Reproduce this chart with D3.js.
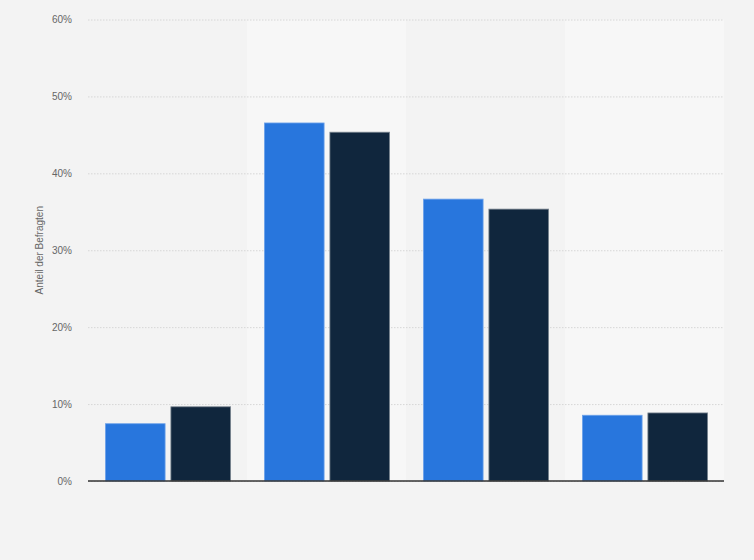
<!DOCTYPE html>
<html>

<head>
    <script src="https://d3js.org/d3.v7.min.js"></script>
    <meta charset="utf-8">
    <style>
        body { margin: 0; background: #f3f3f3; }
        svg { display: block; font-family: "Liberation Sans", Arial, sans-serif; }
    </style>
</head>

<body>
    <div id="my_dataviz"></div>
    <script>
        // data (x labels are not shown in the original)
        var categories = ["A", "B", "C", "D"];
        var series = ["Reihe 1", "Reihe 2"];
        var values1 = [7.5, 46.6, 36.7, 8.6];
        var values2 = [9.7, 45.4, 35.4, 8.9];
        var yTicks = [0, 10, 20, 30, 40, 50, 60];

        var width = 754;
        var height = 560;
        var margin = { top: 19.5, right: 30, bottom: 79, left: 88 };

        var svg = d3.select("#my_dataviz")
            .append("svg")
            .attr("width", width)
            .attr("height", height);

        svg.append("rect")
            .attr("width", width)
            .attr("height", height)
            .attr("fill", "#f3f3f3");

        var x = d3.scaleBand()
            .domain(categories)
            .range([margin.left, width - margin.right])
            .padding(0);

        var xInner = d3.scaleBand()
            .domain(series)
            .range([17, 143])
            .paddingInner(0.0763)
            .paddingOuter(0);

        var y = d3.scaleLinear()
            .domain([0, 60])
            .range([height - margin.bottom, margin.top]);

        // alternating column bands
        svg.append("g")
            .selectAll("rect")
            .data(categories.filter((d, i) => i % 2 === 1))
            .enter()
            .append("rect")
            .attr("x", d => x(d))
            .attr("y", y(60))
            .attr("width", x.bandwidth())
            .attr("height", y(0) - y(60))
            .attr("fill", "#f7f7f7");

        // grid + y labels
        var yAxis = svg.append("g")
            .attr("transform", "translate(" + margin.left + ",0)")
            .call(d3.axisLeft(y)
                .tickValues(yTicks)
                .tickSize(-(width - margin.left - margin.right))
                .tickPadding(16)
                .tickFormat(d => d + "%"));
        yAxis.select(".domain").remove();
        yAxis.selectAll(".tick line")
            .attr("stroke", "#d6d6d6")
            .attr("stroke-dasharray", "1.5,1.5");
        yAxis.selectAll(".tick text")
            .attr("fill", "#666")
            .style("font-size", "10px");

        // bars
        var rows = categories.map((c, i) => ({ cat: c, vals: [values1[i], values2[i]] }));
        var colors = ["#2876dd", "#10263d"];
        var strokes = ["#6fa3ea", "#7a8590"];

        var groups = svg.append("g")
            .selectAll("g")
            .data(rows)
            .enter()
            .append("g")
            .attr("transform", d => "translate(" + x(d.cat) + ",0)");

        groups.selectAll("rect")
            .data(d => d.vals.map((v, j) => ({ s: series[j], v: v, j: j })))
            .enter()
            .append("rect")
            .attr("x", d => xInner(d.s) + 0.4)
            .attr("y", d => y(d.v) + 0.4)
            .attr("width", xInner.bandwidth() - 0.8)
            .attr("height", d => y(0) - y(d.v) - 0.4)
            .attr("fill", d => colors[d.j])
            .attr("stroke", d => strokes[d.j])
            .attr("stroke-width", 0.8);

        // baseline
        svg.append("line")
            .attr("x1", margin.left)
            .attr("x2", width - margin.right)
            .attr("y1", y(0))
            .attr("y2", y(0))
            .attr("stroke", "#333")
            .attr("stroke-width", 1.5);

        // axis title
        svg.append("text")
            .attr("transform", "translate(43," + (y(30)) + ") rotate(-90)")
            .attr("text-anchor", "middle")
            .attr("fill", "#666")
            .style("font-size", "10px")
            .text("Anteil der Befragten");
    </script>
</body>

</html>
